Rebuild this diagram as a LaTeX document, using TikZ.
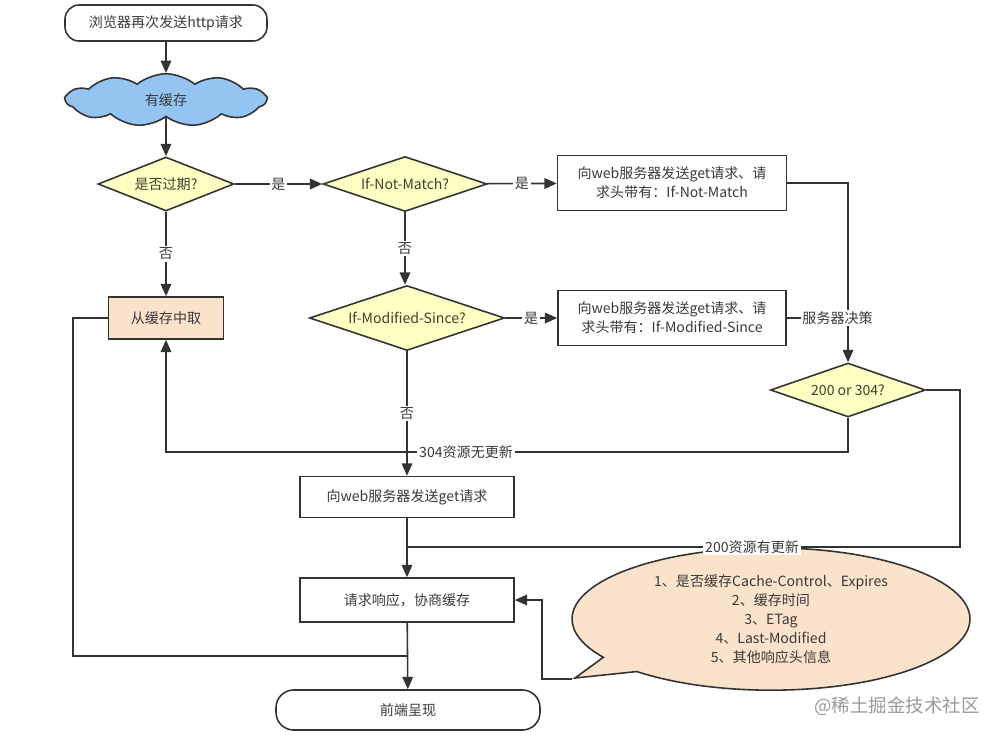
\documentclass[tikz,border=0pt]{standalone}
\usepackage{fontspec}
\setmainfont{Noto Sans CJK SC}
\usetikzlibrary{positioning,shapes,arrows.meta}
\definecolor{linegray}{HTML}{333333}
\definecolor{txtgray}{HTML}{3A3A3A}
\definecolor{diafill}{HTML}{FFFFC4}
\definecolor{cloudfill}{HTML}{94C4F2}
\definecolor{peach}{HTML}{FBE2CA}

\begin{document}
\begin{tikzpicture}[x=0.02cm,y=-0.02cm,font=\fontsize{8}{10.8}\selectfont,
  box/.style={draw=linegray,line width=0.9pt,rectangle,align=center,text=txtgray,inner sep=2pt},
  endbox/.style={box,rounded corners=8pt},
  dia/.style={draw=linegray,line width=0.9pt,diamond,fill=diafill,text=black!70!olive,inner sep=0pt,aspect=2.5},
  lbl/.style={fill=white,inner sep=1pt,text=txtgray},
  arr/.style={draw=linegray,line width=0.9pt,-{Triangle[length=7pt,width=6pt]}},
  ln/.style={draw=linegray,line width=0.9pt}]
  \useasboundingbox (0,0) rectangle (999,738);

  \node[endbox,minimum width=4.04cm,minimum height=0.72cm] (start) at (166,23) {浏览器再次发送http请求};
  \node[cloud,draw=linegray,line width=0.9pt,fill=cloudfill,cloud puffs=11,cloud puff arc=80,aspect=4,
        minimum width=4cm,minimum height=1.05cm,text=txtgray] (cache) at (166,100) {有缓存};
  \node[dia,minimum width=2.72cm,minimum height=1.08cm] (expired) at (166,184) {是否过期?};
  \node[dia,minimum width=3.28cm,minimum height=1.1cm] (nomatch) at (405,184) {If-Not-Match?};
  \node[box,minimum width=4.58cm,minimum height=1.1cm] (reqmatch) at (672,183) {向web服务器发送get请求、请\\求头带有：If-Not-Match};
  \node[box,fill=peach,minimum width=2.3cm,minimum height=0.84cm] (fromcache) at (166,318) {从缓存中取};
  \node[dia,minimum width=3.9cm,minimum height=1.3cm] (modsince) at (407,318) {If-Modified-Since?};
  \node[box,minimum width=4.56cm,minimum height=1.1cm] (reqmod) at (672,318) {向web服务器发送get请求、请\\求头带有：If-Modified-Since};
  \node[dia,minimum width=3.1cm,minimum height=1.08cm] (status) at (848,390) {200 or 304?};
  \node[box,minimum width=4.28cm,minimum height=0.82cm] (reqget) at (407,497) {向web服务器发送get请求};
  \node[box,minimum width=4.28cm,minimum height=0.88cm] (response) at (407,600) {请求响应，协商缓存};
  \node[endbox,rounded corners=10pt,minimum width=5.28cm,minimum height=0.8cm] (render) at (408,710) {前端呈现};
  \node[ellipse callout,draw=linegray,line width=0.9pt,fill=peach,align=center,text=txtgray,
        minimum width=7.96cm,minimum height=2.36cm,callout absolute pointer={(575,678)}] (note) at (771,619)
        {1、是否缓存Cache-Control、Expires\\2、缓存时间\\3、ETag\\4、Last-Modified\\5、其他响应头信息};
  \node[text=gray!80,font=\fontsize{10.5}{12}\selectfont] (mark) at (897,706) {@稀土掘金技术社区};

  \coordinate (j304) at (848,452);
  \coordinate (r200) at (960,547);
  \coordinate (lft) at (73,656);

  \draw[arr] (start) -- (cache);
  \draw[arr] (cache) -- (expired);
  \draw[arr] (expired) -- node[lbl]{是} (nomatch);
  \draw[arr] (nomatch) -- node[lbl]{是} (reqmatch);
  \draw[arr] (expired) -- node[lbl]{否} (fromcache);
  \draw[arr] (nomatch.south) -- node[lbl]{否} (modsince.north -| nomatch.south);
  \draw[arr] (modsince) -- node[lbl]{是} (reqmod);
  \draw[arr] (reqmatch.east) -| (status.north);
  \draw[ln] (reqmod.east) -- node[lbl,pos=0.83]{服务器决策} (reqmod.east -| status.north);
  \draw[arr] (status.south) -- (j304) -- node[lbl,pos=0.56]{304资源无更新} (j304 -| fromcache) -- (fromcache.south);
  \draw[arr] (modsince) -- node[lbl]{否} (reqget);
  \draw[arr] (reqget) -- (response);
  \draw[ln] (status.east) -- (status.east -| r200) -- (r200) -- node[lbl,pos=0.376]{200资源有更新} (r200 -| reqget);
  \draw[ln] (fromcache.west) -| (lft) -- (lft -| render);
  \draw[arr] (response) -- (render);
  \draw[arr] (note.pointer) -- ++(-30,0) |- (response.east);
\end{tikzpicture}
\end{document}
